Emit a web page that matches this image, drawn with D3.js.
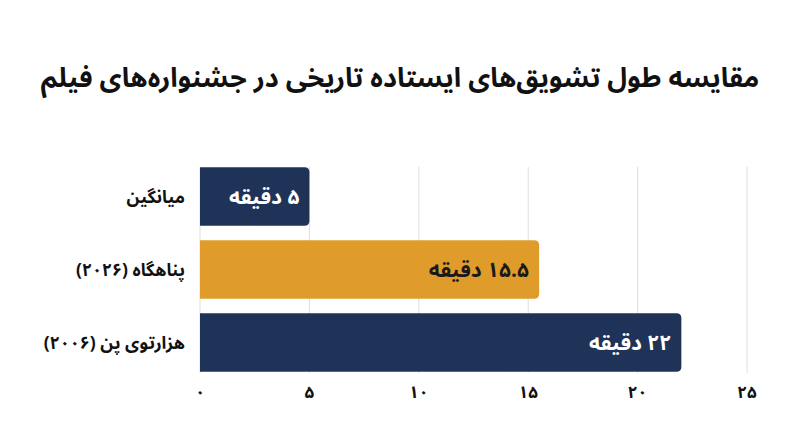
<!DOCTYPE html>
<html lang="fa">
<head>
<meta charset="utf-8">
<script src="https://cdn.jsdelivr.net/npm/d3@7"></script>
<style>
  body { margin: 0; background: #fff; }
  text { font-family: "Noto Sans Arabic", "DejaVu Sans", sans-serif; font-weight: bold; }
</style>
</head>
<body>
<svg id="chart" width="800" height="447"></svg>
<script>
// datos del grafico
var titulo = "مقایسه طول تشویق‌های ایستاده تاریخی در جشنواره‌های فیلم";
var categorias = ["میانگین", "پناهگاه (۲۰۲۶)", "هزارتوی پن (۲۰۰۶)"];
var valores = [5, 15.5, 22];
var unidad = "دقیقه";
var ticks = [0, 5, 10, 15, 20, 25];
var colores = ["#1f3359", "#e09c2b", "#1f3359"];
var coloresTexto = ["#ffffff", "#1a1a1a", "#ffffff"];

var svg = d3.select("#chart");
var width = +svg.attr("width");

// pasar digitos latinos a persas
function fa(n) {
  return String(n).replace(/[0-9]/g, function (d) { return "۰۱۲۳۴۵۶۷۸۹"[+d]; });
}

var x = d3.scaleLinear().domain([0, 25]).range([200, 747]);
var y = d3.scaleBand().domain(categorias).range([160, 379]).paddingInner(0.2).paddingOuter(0.1);

// titulo
svg.append("text")
  .attr("x", width / 2).attr("y", 87)
  .attr("text-anchor", "middle")
  .attr("direction", "rtl")
  .attr("font-size", 27)
  .attr("fill", "#111")
  .text(titulo);

// lineas de la grilla
svg.selectAll("line.grid").data(ticks).enter().append("line")
  .attr("class", "grid")
  .attr("x1", function (d) { return x(d); })
  .attr("x2", function (d) { return x(d); })
  .attr("y1", y.range()[0] + 7).attr("y2", y.range()[1] - 6)
  .attr("stroke", "#dedede").attr("stroke-width", 1);

// etiquetas del eje
svg.selectAll("text.tick").data(ticks).enter().append("text")
  .attr("class", "tick")
  .attr("x", function (d) { return x(d); })
  .attr("y", 398)
  .attr("text-anchor", "middle")
  .attr("font-size", 17)
  .attr("fill", "#111")
  .text(function (d) { return fa(d); });

// barra con esquinas redondeadas solo a la derecha
function barra(i) {
  var x0 = x(0), x1 = x(valores[i]), y0 = y(categorias[i]), h = y.bandwidth(), r = 5;
  return "M" + x0 + "," + y0 + "H" + (x1 - r) + "Q" + x1 + "," + y0 + " " + x1 + "," + (y0 + r) +
    "V" + (y0 + h - r) + "Q" + x1 + "," + (y0 + h) + " " + (x1 - r) + "," + (y0 + h) + "H" + x0 + "Z";
}

var filas = svg.selectAll("g.fila").data(valores).enter().append("g").attr("class", "fila");

filas.append("path")
  .attr("d", function (d, i) { return barra(i); })
  .attr("fill", function (d, i) { return colores[i]; });

filas.append("text")
  .attr("x", function (d) { return x(d) - 10; })
  .attr("y", function (d, i) { return y(categorias[i]) + y.bandwidth() / 2; })
  .attr("dy", "0.35em")
  .attr("text-anchor", "start")
  .attr("direction", "rtl")
  .attr("font-size", 21)
  .attr("fill", function (d, i) { return coloresTexto[i]; })
  .text(function (d) { return fa(d) + " " + unidad; });

// nombres de las categorias
svg.selectAll("text.cat").data(categorias).enter().append("text")
  .attr("class", "cat")
  .attr("x", 185)
  .attr("y", function (d) { return y(d) + y.bandwidth() / 2; })
  .attr("dy", "0.35em")
  .attr("text-anchor", "start")
  .attr("direction", "rtl")
  .attr("font-size", 17.5)
  .attr("fill", "#111")
  .text(function (d) { return d; });
</script>
</body>
</html>
